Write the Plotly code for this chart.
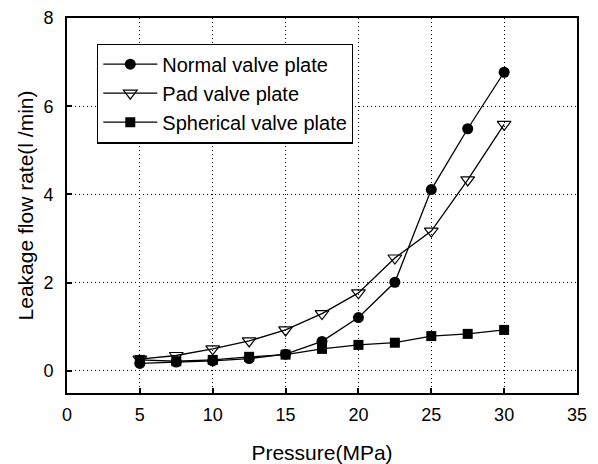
import plotly.graph_objects as go

pressure = [5, 7.5, 10, 12.5, 15, 17.5, 20, 22.5, 25, 27.5, 30]
normal = [0.17, 0.20, 0.23, 0.28, 0.38, 0.67, 1.21, 2.01, 4.11, 5.49, 6.77]
pad = [0.27, 0.35, 0.50, 0.68, 0.93, 1.30, 1.77, 2.56, 3.17, 4.33, 5.59]
spherical = [0.25, 0.22, 0.25, 0.32, 0.37, 0.50, 0.59, 0.64, 0.79, 0.84, 0.93]

x_ticks = [0, 5, 10, 15, 20, 25, 30, 35]
y_ticks = [0, 2, 4, 6, 8]

font = "Liberation Sans, Arial, sans-serif"

fig = go.Figure()
fig.add_trace(go.Scatter(x=pressure, y=normal, mode="lines+markers", name="Normal valve plate",
                         line=dict(color="black", width=1.3),
                         marker=dict(symbol="circle", size=11, color="black")))
fig.add_trace(go.Scatter(x=pressure, y=pad, mode="lines+markers", name="Pad valve plate",
                         line=dict(color="black", width=1.3),
                         marker=dict(symbol="triangle-down-open", size=12, color="black", line=dict(width=1.2))))
fig.add_trace(go.Scatter(x=pressure, y=spherical, mode="lines+markers", name="Spherical valve plate",
                         line=dict(color="black", width=1.3),
                         marker=dict(symbol="square", size=10, color="black")))

axis_common = dict(showline=True, linecolor="black", linewidth=2, mirror=True,
                   ticks="inside", ticklen=5, tickcolor="black", tickwidth=1.5,
                   showgrid=True, gridcolor="black", griddash="1px,3px", gridwidth=1,
                   zeroline=False, automargin=False,
                   tickfont=dict(family=font, size=18, color="black"))

fig.update_xaxes(range=[0, 35], tickvals=x_ticks, ticklabelstandoff=4,
                 title=dict(text="Pressure(MPa)", font=dict(family=font, size=21, color="black"), standoff=24),
                 **axis_common)
fig.update_yaxes(range=[-0.5, 8], tickvals=y_ticks, ticklabelstandoff=8,
                 title=dict(text="Leakage flow rate(l /min)", font=dict(family=font, size=21, color="black"), standoff=4),
                 **axis_common)

fig.update_layout(width=598, height=464, plot_bgcolor="white", paper_bgcolor="white",
                  margin=dict(l=67, r=21, t=18, b=71),
                  legend=dict(x=0.059, y=0.932, xanchor="left", yanchor="top",
                              bordercolor="black", borderwidth=1.2, bgcolor="white",
                              font=dict(family=font, size=20, color="black"),
                              itemwidth=54, tracegroupgap=0),
                  showlegend=True)

fig.write_html("out.html", config={"displayModeBar": False},
               post_script="document.body.style.margin='0';")
